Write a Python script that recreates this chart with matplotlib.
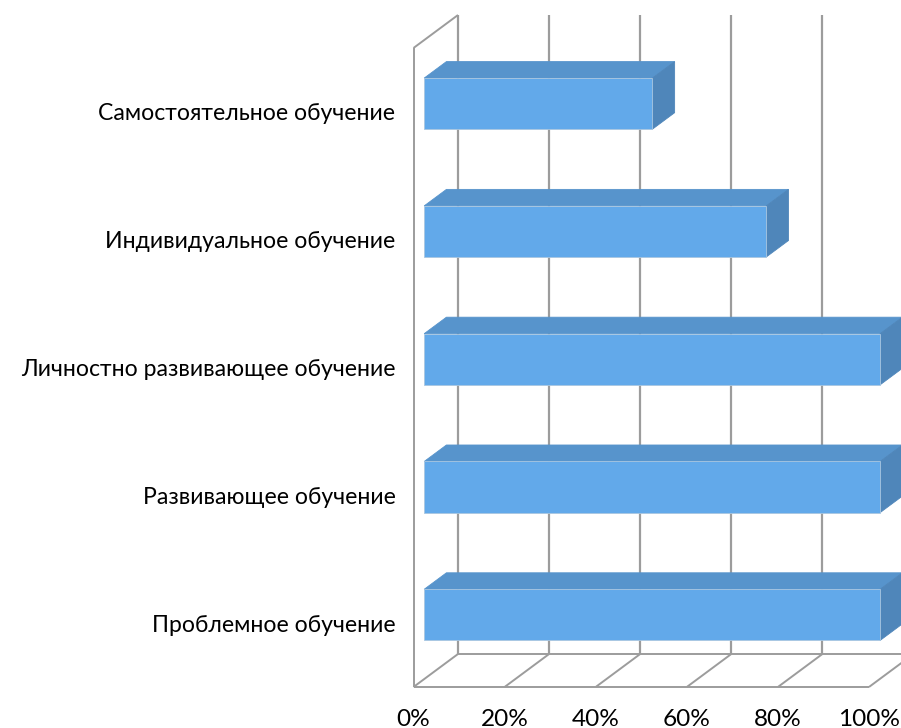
import matplotlib
matplotlib.use("Agg")
import matplotlib.pyplot as plt
from matplotlib.patches import Polygon

plt.rcParams['font.family'] = ['Lato', 'Open Sans', 'DejaVu Sans']

# bottom to top
categories = ['Проблемное обучение', 'Развивающее обучение',
              'Личностно развивающее обучение', 'Индивидуальное обучение',
              'Самостоятельное обучение']
values = [100, 100, 100, 75, 50]
xticks = [0, 20, 40, 60, 80, 100]
xticklabels = ['0%', '20%', '40%', '60%', '80%', '100%']

W, H = 901, 728
# depth of the 3d box in data units
DX = 44.5 / 4.555
DY = 33 / 127.8
BAR_H = 0.4
GRID = '#9c9c9c'

fig = plt.figure(figsize=(W / 100, H / 100), dpi=100)
ax = fig.add_axes([413.5 / W, 1 - 687 / H, 455.5 / W, 639 / H])
ax.set_xlim(0, 100)
ax.set_ylim(0, 5)
for s in ax.spines.values():
    s.set_visible(False)
ax.patch.set_visible(False)


def line(xs, ys, lw=1.4, z=1):
    ax.plot(xs, ys, color=GRID, lw=lw, clip_on=False, zorder=z, solid_capstyle='butt')


def poly(pts, color, z, edge=None):
    ax.add_patch(Polygon(pts, closed=True, facecolor=color, edgecolor=edge or color,
                         lw=0.6, clip_on=False, zorder=z))


# walls and floor
for t in xticks:
    line([t + DX, t + DX], [DY, 5 + DY], lw=1.6)
    line([t, t + DX], [0, DY])
line([0, 0], [0, 5])
line([0, 100], [0, 0])
line([DX, 100 + DX], [DY, DY])
line([0, DX], [5, 5 + DY])

# bars
for i, v in enumerate(values):
    x0, x1 = DX * 0.25 - 0.1, v + DX * 0.25
    y0 = i + 0.5 - BAR_H / 2 + DY * 0.25
    y1 = y0 + BAR_H
    dx, dy = DX * 0.5, DY * 0.5
    z = 3 + (5 - i) * 0.01
    poly([(x0, y1), (x1, y1), (x1 + dx, y1 + dy), (x0 + dx, y1 + dy)], '#5794CC', z)
    poly([(x1, y0), (x1 + dx, y0 + dy), (x1 + dx, y1 + dy), (x1, y1)], '#4F86BA', z)
    poly([(x0, y0), (x1, y0), (x1, y1), (x0, y1)], '#62A9EA', z, edge='#a9c6e0')

ax.set_xticks(xticks)
ax.set_xticklabels(xticklabels)
ax.set_yticks([i + 0.5 for i in range(len(categories))])
ax.set_yticklabels(categories)
ax.tick_params(axis='x', length=0, labelsize=17.6, colors='black', pad=15.5)
ax.tick_params(axis='y', length=0, labelsize=16.6, colors='black', pad=13)

fig.savefig('out.png', dpi=100)
